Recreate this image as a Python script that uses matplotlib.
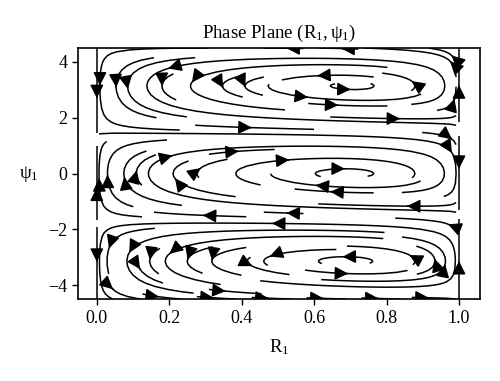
import numpy as np
import matplotlib
matplotlib.use("Agg")
import matplotlib.pyplot as plt

plt.rcParams['font.family'] = ['Liberation Serif', 'DejaVu Serif']
plt.rcParams['mathtext.fontset'] = 'custom'
plt.rcParams['mathtext.rm'] = 'Liberation Serif'
plt.rcParams['mathtext.it'] = 'Liberation Serif:italic'

# Grid and model parameters
R_range = (0.0, 1.0)
psi_range = (-4.5, 4.5)
R_star = 0.7
damping = 0.08
x_ticks = [0.0, 0.2, 0.4, 0.6, 0.8, 1.0]
y_ticks = [-4, -2, 0, 2, 4]
right_seeds_psi = [3.0, 0.0, -3.3]
left_seeds_psi = [3.2, 0.0, -3.0]


def field(RR, PP):
    dR = RR * (1 - RR) * np.sin(PP)
    dP = (R_star - RR) * np.cos(PP) - damping * np.sin(PP)
    return dR, dP


# interior field (stops just short of R = 0 and R = 1)
R_in = np.linspace(0.006, 0.992, 120)
P = np.linspace(psi_range[0], psi_range[1], 120)
RR, PP = np.meshgrid(R_in, P)
dR, dP = field(RR, PP)

# full field for the invariant lines R = 0 and R = 1
R_full = np.linspace(R_range[0], R_range[1], 120)
RF, PF = np.meshgrid(R_full, P)
dRF, dPF = field(RF, PF)

fig = plt.figure(figsize=(5.0, 3.81), dpi=100)
ax = fig.add_axes([0.156, 0.215, 0.804, 0.659])
ax.streamplot(RR, PP, dR, dP, color='black', linewidth=1.1, density=0.9,
              arrowsize=2.0, arrowstyle='-|>')
seeds = np.array([[R_range[1], p] for p in right_seeds_psi] +
                 [[R_range[0], p] for p in left_seeds_psi])
ax.streamplot(RF, PF, dRF, dPF, color='black', linewidth=1.1, density=0.9,
              arrowsize=2.0, arrowstyle='-|>', start_points=seeds)
ax.set_xlim(-0.052, 1.058)
ax.set_ylim(-4.5, 4.5)
ax.set_xticks(x_ticks)
ax.set_xticklabels([f"{v:.1f}" for v in x_ticks])
ax.set_yticks(y_ticks)
ax.set_yticklabels([str(v).replace('-', '\u2212') for v in y_ticks])
ax.tick_params(labelsize=13, direction='out', length=4, width=1)
for s in ax.spines.values():
    s.set_linewidth(1.2)
ax.set_title(r'Phase Plane ($\mathregular{R_1,\psi_1}$)', fontsize=13.5, pad=7)
ax.set_xlabel(r'$\mathregular{R_1}$', fontsize=13.5, labelpad=8)
ax.set_ylabel(r'$\mathregular{\psi_1}$', fontsize=13.5, rotation=0, labelpad=14, va='center')
fig.savefig('out.png', dpi=100)
